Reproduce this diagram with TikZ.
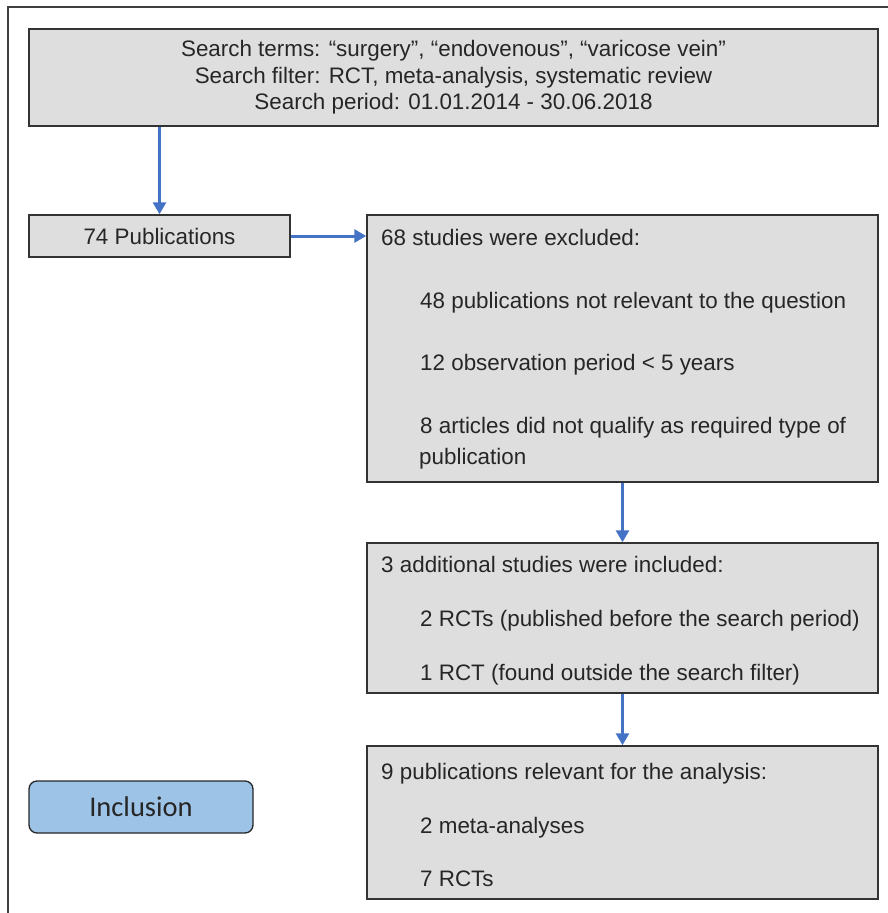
\documentclass[tikz,border=0pt]{standalone}
\usepackage{fontspec}
\setmainfont{Liberation Sans}
\newfontfamily\calibri{Carlito}
\usetikzlibrary{arrows.meta}
\definecolor{boxgray}{HTML}{DEDEDE}
\definecolor{arrowblue}{HTML}{4472C4}
\definecolor{inclblue}{HTML}{9DC3E6}
\definecolor{textgray}{HTML}{262626}

\begin{document}
\begin{tikzpicture}[x=1pt,y=-1pt,
  every node/.style={text=textgray,font=\fontsize{22.4}{26.5}\selectfont},
  box/.style={draw=black!80,line width=1.5pt,fill=boxgray,inner sep=0pt},
  line/.style={anchor=base west,inner sep=0pt},
  arr/.style={draw=arrowblue,line width=3pt,-{Triangle[length=12pt,width=13pt]}}]
\useasboundingbox (0,0) rectangle (888,913);
\draw[black!75,line width=1.4pt] (8,913) -- (8,7) -- (888,7);
\node[box,minimum width=849,minimum height=97,align=center] (terms) at (453.5,77.5)
 {Search terms: “surgery”, “endovenous”, “varicose vein”\\
  Search filter: RCT, meta-analysis, systematic review\\
  Search period: 01.01.2014 - 30.06.2018};
\node[box,minimum width=261,minimum height=42] (pubs) at (159.5,236) {74 Publications};
\node[box,minimum width=511,minimum height=267] (excl) at (622.5,348.5) {};
\node[box,minimum width=511,minimum height=150] (add) at (622.5,618) {};
\node[box,minimum width=511,minimum height=153] (rel) at (622.5,822.5) {};
\node[draw=black!85,line width=1.3pt,fill=inclblue,rounded corners=8pt,minimum width=224,
 minimum height=52,font=\calibri\fontsize{28.5}{32}\selectfont] (incl) at (141,807) {Inclusion};
\node[line] (e0) at (381,245) {68 studies were excluded:};
\node[line] (e1) at (420,308) {48 publications not relevant to the question};
\node[line] (e2) at (420,370) {12 observation period < 5 years};
\node[line] (e3) at (420,433) {8 articles did not qualify as required type of};
\node[line] (e4) at (419,464) {publication};
\node[line] (a0) at (381,572) {3 additional studies were included:};
\node[line] (a1) at (420,626) {2 RCTs (published before the search period)};
\node[line] (a2) at (420,680) {1 RCT (found outside the search filter)};
\node[line] (r0) at (381,779) {9 publications relevant for the analysis:};
\node[line] (r1) at (420,833) {2 meta-analyses};
\node[line] (r2) at (420,886) {7 RCTs};
\draw[arr] (pubs.north |- terms.south) -- (pubs.north);
\draw[arr] (pubs.east) -- (excl.west |- pubs.east);
\draw[arr] (excl.south) -- (add.north);
\draw[arr] (add.south) -- (rel.north);
\end{tikzpicture}
\end{document}
